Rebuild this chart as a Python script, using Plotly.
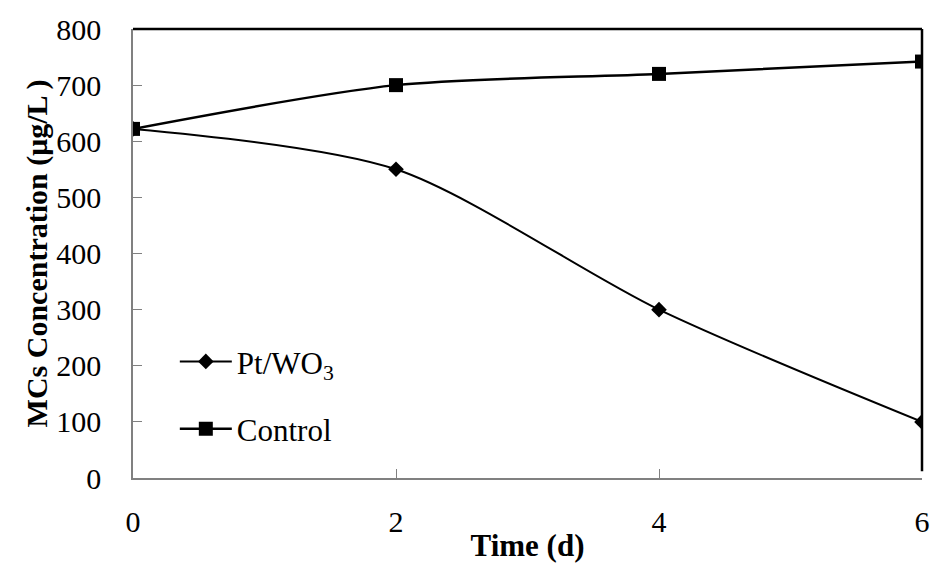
import plotly.graph_objects as go

# Sampling days and measured concentrations
days = [0, 2, 4, 6]
pt_wo3 = [622, 550, 300, 100]
control = [622, 700, 720, 742]

x_ticks = [0, 2, 4, 6]
y_ticks = [0, 100, 200, 300, 400, 500, 600, 700, 800]

FONT = "Liberation Serif"
GREY = "#808080"

fig = go.Figure()

fig.add_trace(go.Scatter(
    x=days, y=pt_wo3, name="Pt/WO<sub>3</sub>", mode="lines+markers",
    line=dict(color="black", width=2, shape="spline", smoothing=0.8),
    marker=dict(symbol="diamond", size=12, color="black"),
    legendgroup="a",
))
fig.add_trace(go.Scatter(
    x=days, y=control, name="Control", mode="lines+markers",
    line=dict(color="black", width=2.5, shape="spline", smoothing=0.8),
    marker=dict(symbol="square", size=14, color="black"),
    legendgroup="b",
))

# Black frame on the top and right of the plotting area
fig.add_shape(type="line", xref="paper", yref="paper", x0=0, x1=1, y0=1, y1=1,
              line=dict(color="black", width=2.5), layer="above")
fig.add_shape(type="line", xref="paper", yref="paper", x0=1, x1=1, y0=0.015, y1=1,
              line=dict(color="black", width=2.5), layer="above")

fig.update_layout(
    width=933, height=563,
    margin=dict(l=133, r=11, t=29, b=85),
    plot_bgcolor="white", paper_bgcolor="white",
    font=dict(family=FONT, size=30, color="black"),
    showlegend=True,
    legend=dict(
        x=0.053, y=0.319, xanchor="left", yanchor="top",
        bgcolor="rgba(0,0,0,0)", font=dict(family=FONT, size=31),
        tracegroupgap=24, itemwidth=52,
    ),
    xaxis=dict(
        range=[0, 6], tickvals=x_ticks, ticks="inside", ticklen=9,
        tickcolor=GREY, showline=True, linecolor=GREY, linewidth=1.5,
        showgrid=False, zeroline=False, ticklabelstandoff=16, automargin=False,
        tickfont=dict(family=FONT, size=30),
        title=dict(text="<b>Time (d)</b>", font=dict(family=FONT, size=31), standoff=0),
    ),
    yaxis=dict(
        range=[0, 800], tickvals=y_ticks, ticks="inside", ticklen=9,
        tickcolor=GREY, showline=True, linecolor=GREY, linewidth=1.5,
        showgrid=False, zeroline=False, ticklabelstandoff=24, automargin=False,
        tickfont=dict(family=FONT, size=30),
        title=dict(text="<b>MCs Concentration (μg/L )</b>", font=dict(family=FONT, size=30), standoff=0),
    ),
)

fig.write_html("out.html")
